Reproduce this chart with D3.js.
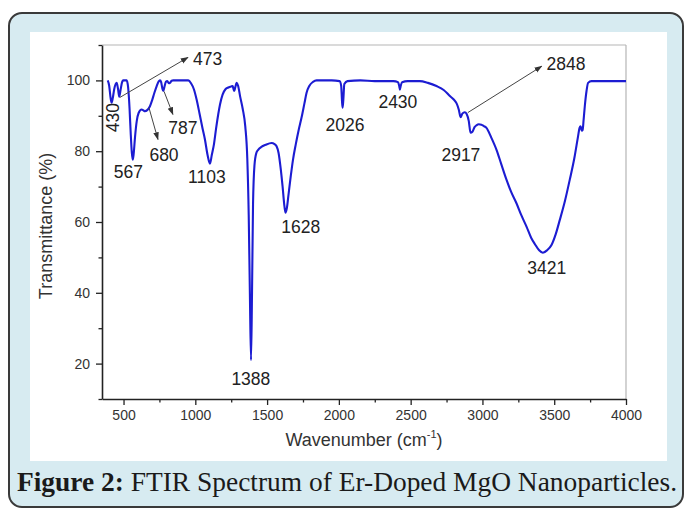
<!DOCTYPE html>
<html><head><meta charset="utf-8">
<script src="https://cdn.jsdelivr.net/npm/d3@7"></script>
<style>body{margin:0;background:#fff}svg{display:block}</style>
</head><body>
<svg id="c" width="684" height="508"></svg>
<script>
// ---- data ----
const wavenumber = [390,400,410,417,425,435,452,462,470,480,490,498,522,532,542,550,558,564,570,580,592,605,626,640,649,665,684,700,715,731,745,754,762,770,777,785,795,805,815,823,835,846,900,951,970,990,1009,1030,1050,1067,1085,1102,1115,1130,1145,1160,1172,1190,1210,1230,1250,1260,1266,1271,1278,1288,1298,1312,1330,1348,1362,1372,1380,1388,1395,1402,1412,1425,1438,1460,1490,1531,1552,1566,1580,1595,1608,1618,1628,1638,1650,1665,1680,1700,1720,1740,1760,1775,1795,1820,1845,1950,2005,2016,2022,2026,2031,2038,2060,2150,2250,2380,2412,2420,2425,2431,2440,2480,2564,2620,2680,2730,2773,2800,2820,2835,2848,2860,2877,2890,2905,2917,2930,2945,2958,2975,2993,3010,3028,3060,3098,3130,3168,3200,3237,3270,3307,3340,3365,3395,3421,3450,3481,3510,3539,3575,3608,3640,3666,3676,3684,3692,3698,3705,3713,3725,3736,3760,3850,4000];
const transmittance = [100,98.5,95,93.7,95,97.5,99.3,97.5,95.4,97.5,99.5,100,100,98,92,85,79.5,77.6,79,84,88.5,90.8,91.8,91.5,91.3,91.6,92.7,94.5,96.5,98.4,99.7,100,99.5,97.8,97,98.2,99.6,99.8,99.2,99.3,99.9,100,100,100,99.2,97.5,94.6,90.5,86.5,83.3,79,76.5,79,82,86.5,90.5,93.2,96,97.5,98,98.3,98.4,97.6,97,98,99.3,98.5,95.5,92,87,78,62,40,21,40,65,76,79.5,80.4,81.2,81.8,82.3,82,81.4,79.5,75,70,65.5,62.6,64,68,73,77.5,82,86,89.5,93.5,96.5,98.5,99.6,100,100,99.8,98.5,94,92.3,94.5,99,99.8,100,99.8,99.8,99.5,98.5,97.4,98.5,99.5,99.8,99.8,99.3,98.4,97.3,95.6,94.6,93.5,91.8,89.6,90.6,91,90.5,88.5,85.2,85.5,86.8,87.3,87.6,87.5,87.1,86.6,84,80.4,76.5,71.9,68.5,65.3,62,58.7,55.5,53.8,52,51.3,52,53.5,56.5,60.6,66,71.9,78,84.2,86.5,87,85.8,86,89,92.7,97,99.3,99.8,99.8,99.8];
const xTickValues = [500,1000,1500,2000,2500,3000,3500,4000];
const xMinorTicks = [750,1250,1750,2250,2750,3250,3750];
const yTickValues = [20,40,60,80,100];
const yMinorTicks = [10,30,50,70,90,110];
// peak labels: text, wavenumber position, transmittance position, anchor
const peakText = ["473","430","567","680","787","1103","1388","1628","2026","2430","2917","2848","3421"];
const peakLabelW = [984,423,534,782,914,1081,1387,1735,2042,2411,2850,3446,3448];
const peakLabelT = [106,89.5,74.2,79,86.7,72.8,15.8,58.6,87.5,93.8,79,104.8,47];
const peakAnchor = ["start","middle","middle","middle","middle","middle","middle","middle","middle","middle","middle","start","middle"];
// arrows: from (w,t) to (w,t)
const arrowFromW = [475,677,782,2898];
const arrowFromT = [95.2,92.3,96.9,90.9];
const arrowToW = [949,740,844,3413];
const arrowToT = [106.5,83.3,90.4,104];

const svg = d3.select("#c");
// outer panel
svg.append("rect").attr("x",9).attr("y",13).attr("width",674).attr("height",494)
  .attr("rx",13).attr("fill","#d7ebf1").attr("stroke","#3a3a3a").attr("stroke-width",2);
svg.append("rect").attr("x",30).attr("y",32).attr("width",637).attr("height",429).attr("fill","#fff");

const x = d3.scaleLinear().domain([350,4000]).range([102,626]);
const y = d3.scaleLinear().domain([10,110]).range([399,45]);

// frame top/right
svg.append("line").attr("x1",x(350)).attr("x2",x(4000)).attr("y1",y(110)).attr("y2",y(110)).attr("stroke","#b5b5b5").attr("stroke-width",1.2);
svg.append("line").attr("x1",x(4000)).attr("x2",x(4000)).attr("y1",y(110)).attr("y2",y(10)).attr("stroke","#b5b5b5").attr("stroke-width",1.2);

const fontTick = "Liberation Sans, Arial, sans-serif";
svg.append("g").attr("transform",`translate(0,${y(10)})`)
  .call(d3.axisBottom(x).tickValues(xTickValues).tickSize(6).tickPadding(5).tickSizeOuter(0).tickFormat(d3.format("d")));
const gxm = svg.append("g").attr("transform",`translate(0,${y(10)})`)
  .call(d3.axisBottom(x).tickValues(xMinorTicks).tickSize(3.5).tickSizeOuter(0).tickFormat(""));
gxm.select(".domain").remove();
svg.append("g").attr("transform",`translate(${x(350)},0)`)
  .call(d3.axisLeft(y).tickValues(yTickValues).tickSize(6).tickPadding(6).tickSizeOuter(0));
const gym = svg.append("g").attr("transform",`translate(${x(350)},0)`)
  .call(d3.axisLeft(y).tickValues(yMinorTicks).tickSize(3.5).tickSizeOuter(0).tickFormat(""));
gym.select(".domain").remove();
svg.selectAll(".domain").attr("stroke","#222").attr("stroke-width",1.6);
svg.selectAll(".tick line").attr("stroke","#222").attr("stroke-width",1.3);
svg.selectAll(".tick text").attr("font-family",fontTick).attr("font-size",14).attr("fill","#333");

// curve
const pts = wavenumber.map((w,i)=>[w,transmittance[i]]);
svg.append("path").datum(pts)
  .attr("fill","none").attr("stroke","#1c1cd2").attr("stroke-width",2.1).attr("stroke-linejoin","round")
  .attr("d", d3.line().x(d=>x(d[0])).y(d=>y(d[1])).curve(d3.curveMonotoneX));

// arrows
const defs = svg.append("defs");
defs.append("marker").attr("id","ah").attr("viewBox","0 0 10 10").attr("refX",9).attr("refY",5)
  .attr("markerWidth",8).attr("markerHeight",8).attr("orient","auto").attr("markerUnits","userSpaceOnUse")
  .append("path").attr("d","M0,1.5 L10,5 L0,8.5 Z").attr("fill","#333");
arrowFromW.forEach((w,i)=>{
  svg.append("line").attr("x1",x(w)).attr("y1",y(arrowFromT[i]))
    .attr("x2",x(arrowToW[i])).attr("y2",y(arrowToT[i]))
    .attr("stroke","#444").attr("stroke-width",1).attr("marker-end","url(#ah)");
});

// peak labels
peakText.forEach((t,i)=>{
  const px = x(peakLabelW[i]), py = y(peakLabelT[i]);
  const txt = svg.append("text").attr("x",px).attr("y",py).attr("dy","0.35em")
    .attr("text-anchor",peakAnchor[i]).attr("font-family",fontTick).attr("font-size",17.5).attr("fill","#222").text(t);
  if (t==="430") txt.attr("transform",`rotate(-90,${px},${py})`);
});

// axis titles
svg.append("text").attr("transform",`translate(46,226) rotate(-90)`)
  .attr("text-anchor","middle").attr("dy","0.35em").attr("font-family",fontTick).attr("font-size",18).attr("fill","#333")
  .text("Transmittance (%)");
const xt = svg.append("text").attr("x",(x(350)+x(4000))/2).attr("y",446).attr("text-anchor","middle")
  .attr("font-family",fontTick).attr("font-size",18).attr("fill","#333");
xt.append("tspan").text("Wavenumber (cm");
xt.append("tspan").attr("font-size",11).attr("dy",-8).text("-1");
xt.append("tspan").attr("dy",8).text(")");

// caption
const cap = svg.append("text").attr("x",17).attr("y",491).attr("font-family","Liberation Serif, Times New Roman, serif")
  .attr("font-size",27).attr("fill","#1a1a1a").attr("textLength",660).attr("lengthAdjust","spacingAndGlyphs");
cap.append("tspan").attr("font-weight","bold").text("Figure 2:");
cap.append("tspan").text(" FTIR Spectrum of Er-Doped MgO Nanoparticles.");
</script>
</body></html>
